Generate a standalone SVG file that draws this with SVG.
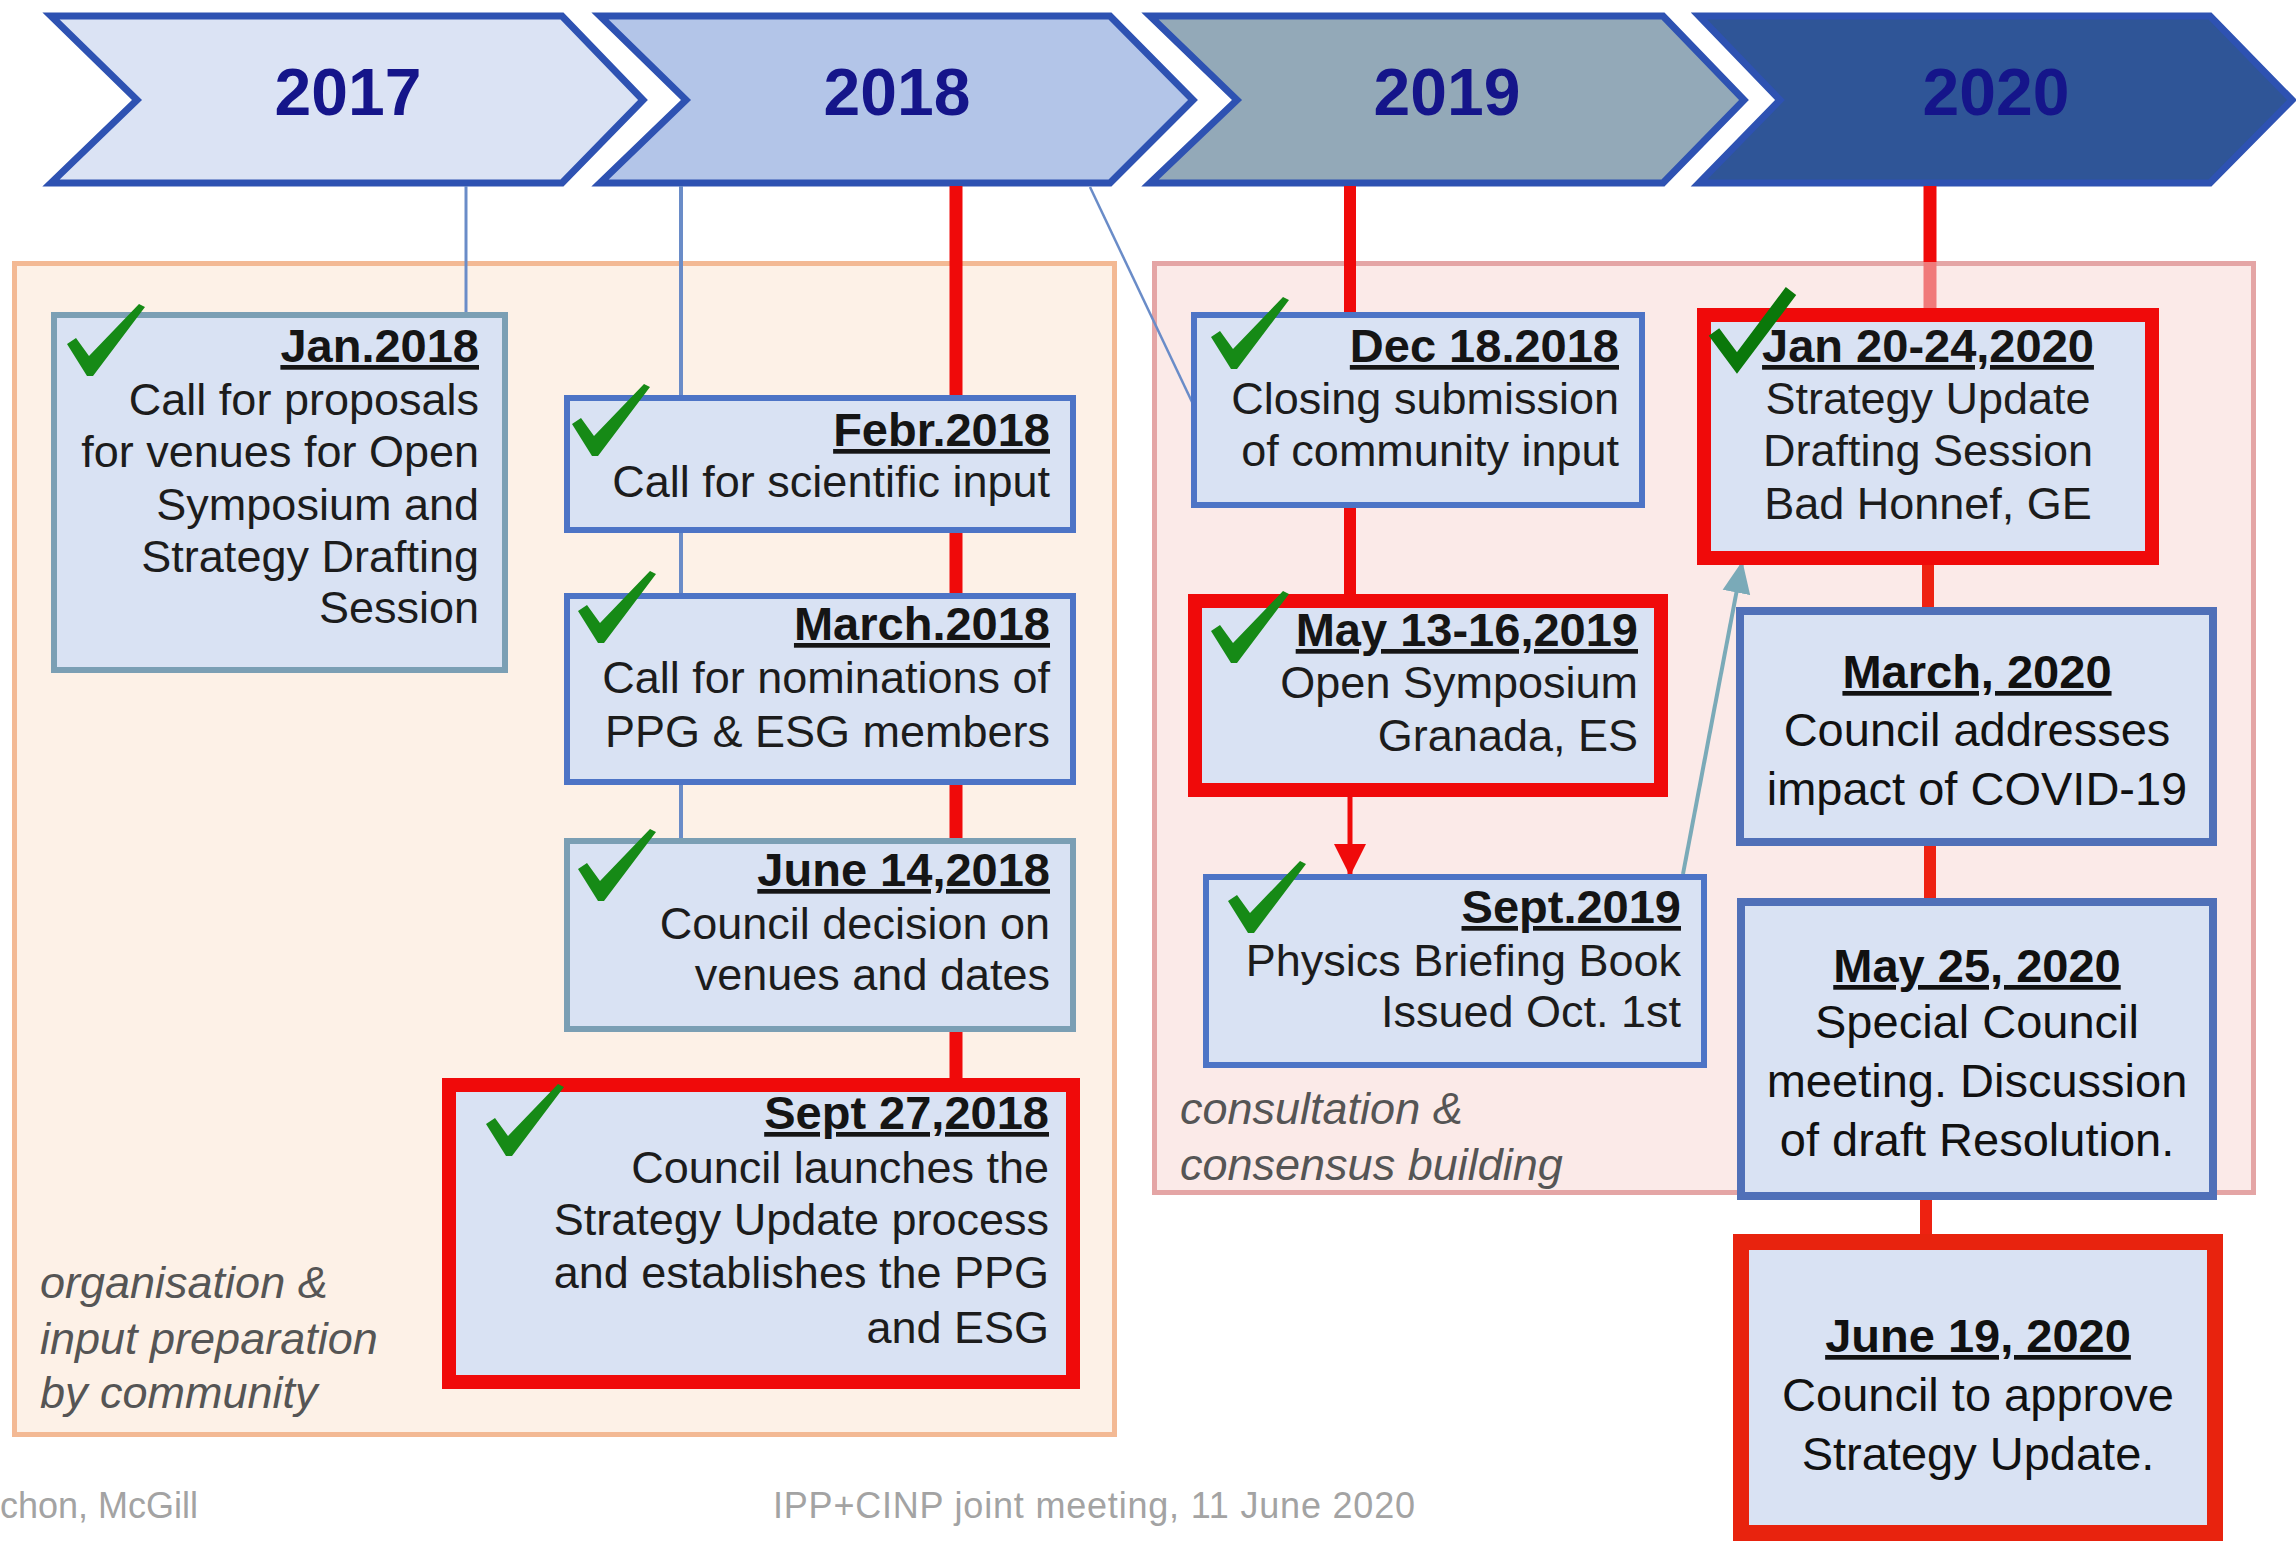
<svg xmlns="http://www.w3.org/2000/svg" xmlns:xlink="http://www.w3.org/1999/xlink" width="2296" height="1541" viewBox="0 0 2296 1541">
<style>
.chev{stroke:#2e52b2;stroke-width:7;stroke-linejoin:miter}
.yr{font-family:"Liberation Sans",Arial,sans-serif;font-weight:bold;font-size:66px;fill:#15158a;text-anchor:middle}
.box{fill:#d9e2f3}
.bb{stroke:#4d74c6;stroke-width:6}
.bt{stroke:#7b9fb4;stroke-width:6}
.br{stroke:#f00a0a;stroke-width:14}
.bb2{stroke:#5070b8;stroke-width:8}
.d{font-family:"Liberation Sans",Arial,sans-serif;font-weight:bold;font-size:47px;fill:#151515;text-decoration:underline;text-underline-offset:12px;text-decoration-thickness:4px}
.t{font-family:"Liberation Sans",Arial,sans-serif;font-size:45px;fill:#1c1c1c}
.tb{font-family:"Liberation Sans",Arial,sans-serif;font-size:47px;fill:#111}
.db{font-family:"Liberation Sans",Arial,sans-serif;font-weight:bold;font-size:47px;fill:#111;text-decoration:underline;text-underline-offset:6px;text-decoration-thickness:4px}
.e{text-anchor:end}
.m{text-anchor:middle}
.lbl{font-family:"Liberation Sans",Arial,sans-serif;font-style:italic;font-size:45px;fill:#555}
.foot{font-family:"Liberation Sans",Arial,sans-serif;font-size:36px;fill:#a3a3a3}
.red{stroke:#f00a0a;fill:none}
.thin{stroke:#6a8cc8;fill:none}
.chk{fill:#168a16}
</style>
<defs>
<path id="chk" d="M0,40 L9,34 L22,52 L72,0 L78,3 L26,72 L20,72 Z"/>
<marker id="ahTeal" markerUnits="userSpaceOnUse" markerWidth="32" markerHeight="32" viewBox="0 0 32 32" refX="30" refY="16" orient="auto">
<path d="M0,2 L32,16 L0,30 Z" fill="#7aaab8"/>
</marker>
<marker id="ahRed" markerUnits="userSpaceOnUse" markerWidth="32" markerHeight="34" viewBox="0 0 32 34" refX="30" refY="17" orient="auto">
<path d="M0,1 L32,17 L0,33 Z" fill="#f00a0a"/>
</marker>
</defs>
<rect width="2296" height="1541" fill="#ffffff"/>

<g id="timeline">
<g id="y2017"><polygon class="chev" fill="#dbe3f4" points="51,16 562,16 643,100 562,183 51,183 137,100"/><text class="yr" x="348" y="115">2017</text></g>
<g id="y2018"><polygon class="chev" fill="#b3c5e8" points="600,16 1110,16 1193,100 1110,183 600,183 686,100"/><text class="yr" x="897" y="115">2018</text></g>
<g id="y2019"><polygon class="chev" fill="#93a9b8" points="1150,16 1663,16 1744,100 1663,183 1150,183 1237,100"/><text class="yr" x="1447" y="115">2019</text></g>
<g id="y2020"><polygon class="chev" fill="#2f5597" stroke="#3a5cc0" points="1699,16 2210,16 2292,100 2210,183 1699,183 1780,100"/><text class="yr" x="1996" y="115" fill="#1a1f7e">2020</text></g>
</g>

<g id="phase-organisation">
<rect x="14.5" y="263.5" width="1100" height="1171" fill="#fdf1e7" stroke="#f3b994" stroke-width="5"/>
<text class="lbl" x="40" y="1298">organisation &amp;</text>
<text class="lbl" x="40" y="1354">input preparation</text>
<text class="lbl" x="40" y="1408">by community</text>
</g>
<g id="phase-consultation">
<rect x="1154.5" y="263.5" width="1099" height="929" fill="#fbeae8" stroke="#e4a5a5" stroke-width="5"/>
<text class="lbl" x="1180" y="1124">consultation &amp;</text>
<text class="lbl" x="1180" y="1180">consensus building</text>
</g>

<g id="connectors">
<line class="thin" x1="466" y1="186" x2="466" y2="315" stroke="#7a9ac8" stroke-width="3"/>
<line class="thin" x1="681" y1="186" x2="681" y2="841" stroke-width="4"/>
<line class="red" x1="956" y1="186" x2="956" y2="1082" stroke-width="13"/>
<line class="thin" x1="1090" y1="187" x2="1193" y2="404" stroke-width="2.5"/>
<line class="red" x1="1350" y1="186" x2="1350" y2="315" stroke-width="12"/>
<line class="red" x1="1350" y1="505" x2="1350" y2="600" stroke-width="12"/>
<line class="red" x1="1350" y1="797" x2="1350" y2="874" stroke-width="5" marker-end="url(#ahRed)"/>
<line class="red" x1="1930" y1="186" x2="1930" y2="262" stroke-width="13"/>
<line x1="1930" y1="262" x2="1930" y2="310" stroke="#f07a7a" stroke-width="13"/>
<line x1="1928" y1="563" x2="1928" y2="610" stroke="#ee2211" stroke-width="12"/>
<line x1="1930" y1="844" x2="1930" y2="900" stroke="#ee2211" stroke-width="12"/>
<line x1="1926" y1="1198" x2="1926" y2="1238" stroke="#ee2211" stroke-width="12"/>
<line x1="1683" y1="874" x2="1742" y2="563" stroke="#7aaab8" stroke-width="4" marker-end="url(#ahTeal)"/>
</g>

<g id="n-jan2018">
<rect class="box bt" x="54" y="315" width="451" height="355"/>
<use href="#chk" class="chk" x="67" y="304"/>
<text class="d e" x="479" y="362">Jan.2018</text>
<text class="t e" x="479" y="415">Call for proposals</text>
<text class="t e" x="479" y="467">for venues for Open</text>
<text class="t e" x="479" y="520">Symposium and</text>
<text class="t e" x="479" y="572">Strategy Drafting</text>
<text class="t e" x="479" y="623">Session</text>
</g>

<g id="n-feb2018">
<rect class="box bb" x="567" y="398" width="506" height="132"/>
<use href="#chk" class="chk" x="572" y="384"/>
<text class="d e" x="1050" y="446">Febr.2018</text>
<text class="t e" x="1050" y="497">Call for scientific input</text>
</g>

<g id="n-mar2018">
<rect class="box bb" x="567" y="596" width="506" height="186"/>
<use href="#chk" class="chk" x="578" y="571"/>
<text class="d e" x="1050" y="640">March.2018</text>
<text class="t e" x="1050" y="693">Call for nominations of</text>
<text class="t e" x="1050" y="747">PPG &amp; ESG members</text>
</g>

<g id="n-jun2018">
<rect class="box bt" x="567" y="841" width="506" height="188"/>
<use href="#chk" class="chk" x="578" y="829"/>
<text class="d e" x="1050" y="886">June 14,2018</text>
<text class="t e" x="1050" y="939">Council decision on</text>
<text class="t e" x="1050" y="990">venues and dates</text>
</g>

<g id="n-sep2018">
<rect class="box br" x="449" y="1085" width="624" height="297"/>
<use href="#chk" class="chk" x="486" y="1084"/>
<text class="d e" x="1049" y="1129">Sept 27,2018</text>
<text class="t e" x="1049" y="1183">Council launches the</text>
<text class="t e" x="1049" y="1235">Strategy Update process</text>
<text class="t e" x="1049" y="1288">and establishes the PPG</text>
<text class="t e" x="1049" y="1343">and ESG</text>
</g>

<g id="n-dec2018">
<rect class="box bb" x="1194" y="315" width="448" height="190"/>
<use href="#chk" class="chk" x="1211" y="297"/>
<text class="d e" x="1619" y="362">Dec 18.2018</text>
<text class="t e" x="1619" y="414">Closing submission</text>
<text class="t e" x="1619" y="466">of community input</text>
</g>

<g id="n-may2019">
<rect class="box br" x="1195" y="601" width="466" height="189"/>
<use href="#chk" class="chk" x="1211" y="591"/>
<text class="d e" x="1638" y="646">May 13-16,2019</text>
<text class="t e" x="1638" y="698">Open Symposium</text>
<text class="t e" x="1638" y="751">Granada, ES</text>
</g>

<g id="n-sep2019">
<rect class="box bb" x="1206" y="877" width="498" height="188"/>
<use href="#chk" class="chk" x="1228" y="861"/>
<text class="d e" x="1681" y="923">Sept.2019</text>
<text class="t e" x="1681" y="976">Physics Briefing Book</text>
<text class="t e" x="1681" y="1027">Issued Oct. 1st</text>
</g>

<g id="n-jan2020">
<rect class="box br" x="1704" y="315" width="448" height="243"/>
<text class="d m" x="1928" y="362">Jan 20-24,2020</text>
<text class="t m" x="1928" y="414">Strategy Update</text>
<text class="t m" x="1928" y="466">Drafting Session</text>
<text class="t m" x="1928" y="519">Bad Honnef, GE</text>
<polyline points="1714,332 1737,363 1791,291" fill="none" stroke="#0a780a" stroke-width="13"/>
</g>

<g id="n-mar2020">
<rect class="box bb2" x="1740" y="611" width="473" height="231"/>
<text class="db m" x="1977" y="688">March, 2020</text>
<text class="tb m" x="1977" y="746">Council addresses</text>
<text class="tb m" x="1977" y="805">impact of COVID-19</text>
</g>

<g id="n-may2020">
<rect class="box bb2" x="1741" y="902" width="472" height="294"/>
<text class="db m" x="1977" y="982">May 25, 2020</text>
<text class="tb m" x="1977" y="1038">Special Council</text>
<text class="tb m" x="1977" y="1097">meeting. Discussion</text>
<text class="tb m" x="1977" y="1156">of draft Resolution.</text>
</g>

<g id="n-jun2020">
<rect class="box" x="1741" y="1242" width="474" height="291" stroke="#e8230e" stroke-width="16"/>
<text class="db m" x="1978" y="1352">June 19, 2020</text>
<text class="tb m" x="1978" y="1411">Council to approve</text>
<text class="tb m" x="1978" y="1470">Strategy Update.</text>
</g>

<g id="footer">
<text class="foot" x="0" y="1518">chon, McGill</text>
<text class="foot" x="773" y="1518" textLength="642">IPP+CINP joint meeting, 11 June 2020</text>
</g>
</svg>
